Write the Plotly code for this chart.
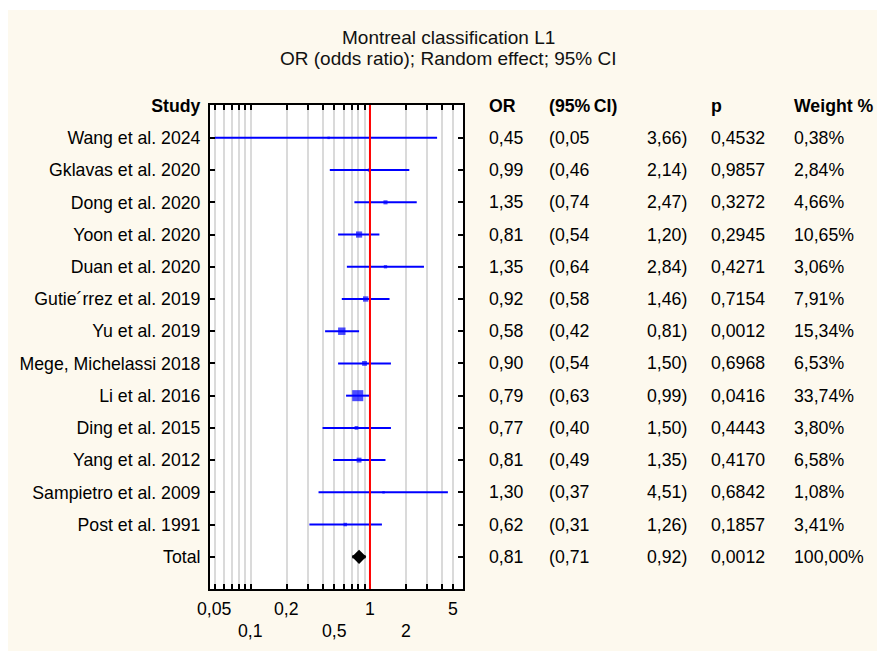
import math
import plotly.graph_objects as go

# ---------------- data ----------------
studies = ["Wang et al. 2024", "Gklavas et al. 2020", "Dong et al. 2020", "Yoon et al. 2020",
           "Duan et al. 2020", "Gutie\u00b4rrez et al. 2019", "Yu et al. 2019",
           "Mege, Michelassi 2018", "Li et al. 2016", "Ding et al. 2015", "Yang et al. 2012",
           "Sampietro et al. 2009", "Post et al. 1991"]
odds_ratio = [0.45, 0.99, 1.35, 0.81, 1.35, 0.92, 0.58, 0.90, 0.79, 0.77, 0.81, 1.30, 0.62]
ci_low = [0.05, 0.46, 0.74, 0.54, 0.64, 0.58, 0.42, 0.54, 0.63, 0.40, 0.49, 0.37, 0.31]
ci_high = [3.66, 2.14, 2.47, 1.20, 2.84, 1.46, 0.81, 1.50, 0.99, 1.50, 1.35, 4.51, 1.26]
p_values = ["0,4532", "0,9857", "0,3272", "0,2945", "0,4271", "0,7154", "0,0012",
            "0,6968", "0,0416", "0,4443", "0,4170", "0,6842", "0,1857"]
weights = [0.38, 2.84, 4.66, 10.65, 3.06, 7.91, 15.34, 6.53, 33.74, 3.80, 6.58, 1.08, 3.41]

total_label = "Total"
total_or = 0.81
total_low = 0.71
total_high = 0.92
total_p = "0,0012"
total_weight = 100.00

ref_or = 1
grid_vals = [0.05, 0.06, 0.07, 0.08, 0.09, 0.1, 0.2, 0.3, 0.4, 0.5, 0.6, 0.7, 0.8, 0.9, 1, 2, 3, 4, 5]
tick_row1 = [0.05, 0.2, 1, 5]
tick_row2 = [0.1, 0.5, 2]
headers = ["OR", "(95%\u2009CI)", "", "p", "Weight %"]
title_lines = ["Montreal classification L1", "OR (odds ratio); Random effect; 95% CI"]

# ---------------- layout constants ----------------
W, H = 877, 651
ML, MR, MT, MB = 210, 10, 105, 62
PW = W - ML - MR
PH = H - MT - MB
PLOT_RIGHT = 463
FONT = "Liberation Sans, Arial, sans-serif"
FS = 17.7
CREAM = "#fdf9ee"

def px_to_paper_x(px):
    return (px - ML) / PW

def px_to_paper_y(py):
    return (H - MB - py) / PH

def fmt(v, nd=2):
    return f"{v:.{nd}f}".replace(".", ",")

n = len(studies)
rows = list(range(n))
total_row = n

fig = go.Figure()

# CI lines
for i in rows:
    fig.add_trace(go.Scatter(x=[ci_low[i], ci_high[i]], y=[i, i], mode="lines",
                             line=dict(color="#0000ff", width=2), showlegend=False,
                             hoverinfo="skip"))
# weight squares
fig.add_trace(go.Scatter(x=odds_ratio, y=rows, mode="markers",
                         marker=dict(symbol="square", color="#0000ff",
                                     size=[max(2.5, 1.9 * math.sqrt(w)) for w in weights],
                                     line=dict(width=0)),
                         showlegend=False))
# total
fig.add_trace(go.Scatter(x=[total_low, total_high], y=[total_row, total_row], mode="lines",
                         line=dict(color="black", width=3), showlegend=False))
fig.add_trace(go.Scatter(x=[total_or], y=[total_row], mode="markers",
                         marker=dict(symbol="diamond", color="black", size=11,
                                     line=dict(width=0)), showlegend=False))

# reference line
fig.add_shape(type="line", xref="x", yref="paper", x0=ref_or, x1=ref_or, y0=0, y1=1,
              line=dict(color="#ff0000", width=2), layer="above")

# white strips outside the cream panel
fig.add_shape(type="rect", xref="paper", yref="paper",
              x0=px_to_paper_x(0), x1=px_to_paper_x(W), y0=px_to_paper_y(10), y1=px_to_paper_y(0),
              fillcolor="white", line=dict(width=0), layer="below")
fig.add_shape(type="rect", xref="paper", yref="paper",
              x0=px_to_paper_x(0), x1=px_to_paper_x(8), y0=px_to_paper_y(H), y1=px_to_paper_y(0),
              fillcolor="white", line=dict(width=0), layer="below")

ann = []
PAD = 3
col_px = [490, 550, 686, 712, 795]
for c, h in enumerate(headers):
    if h:
        ann.append(dict(x=px_to_paper_x(col_px[c] - PAD), y=-1, xref="paper", yref="y",
                        text=f"<b>{h}</b>", showarrow=False, xanchor="left", yanchor="middle",
                        font=dict(family=FONT, size=FS, color="black")))

def add_row(y, orv, lo, hi, p, w):
    vals = [fmt(orv), "(" + fmt(lo), fmt(hi) + ")", p, fmt(w) + "%"]
    for c, t in enumerate(vals):
        right = (c == 2)
        ann.append(dict(x=px_to_paper_x(col_px[c] + (PAD if right else -PAD)), y=y,
                        xref="paper", yref="y", text=t,
                        showarrow=False, xanchor="right" if right else "left",
                        yanchor="middle", font=dict(family=FONT, size=FS, color="black")))

for i in rows:
    add_row(i, odds_ratio[i], ci_low[i], ci_high[i], p_values[i], weights[i])
add_row(total_row, total_or, total_low, total_high, total_p, total_weight)

# bottom axis labels (two staggered rows)
def tick_text(v):
    return fmt(v, 2 if v < 0.1 else (1 if v < 1 else 0))

for v in tick_row1:
    ann.append(dict(x=math.log10(v), y=0, xref="x", yref="paper", text=tick_text(v),
                    showarrow=False, yanchor="middle", yshift=-20,
                    font=dict(family=FONT, size=FS, color="black")))
for v in tick_row2:
    ann.append(dict(x=math.log10(v), y=0, xref="x", yref="paper", text=tick_text(v),
                    showarrow=False, yanchor="middle", yshift=-42,
                    font=dict(family=FONT, size=FS, color="black")))

# title (two lines)
for t, py in zip(title_lines, [38, 59]):
    ann.append(dict(x=px_to_paper_x(448), y=px_to_paper_y(py), xref="paper", yref="paper",
                    text=t, showarrow=False, xanchor="center", yanchor="middle",
                    font=dict(family=FONT, size=19, color="#111111")))

fig.update_layout(
    width=W, height=H,
    margin=dict(l=ML, r=MR, t=MT, b=MB),
    paper_bgcolor=CREAM, plot_bgcolor="white",
    font=dict(family=FONT, size=FS, color="black"),
    xaxis=dict(type="log", domain=[0, (PLOT_RIGHT - ML) / PW],
               range=[math.log10(0.0454), math.log10(6.04)],
               tickvals=grid_vals, ticktext=[""] * len(grid_vals),
               ticks="inside", ticklen=5, tickwidth=1.5, tickcolor="black",
               showgrid=True, gridcolor="#dadada", gridwidth=2,
               showline=True, linecolor="black", linewidth=2, mirror="ticks",
               zeroline=False, fixedrange=True),
    yaxis=dict(range=[total_row + 1, -1.02],
               tickvals=[-1] + rows + [total_row],
               ticktext=["<b>Study</b>"] + studies + [total_label],
               ticks="inside", ticklen=5, tickwidth=1.5, tickcolor="black",
               ticklabelstandoff=4,
               showgrid=False, zeroline=False,
               showline=True, linecolor="black", linewidth=2, mirror="ticks",
               tickfont=dict(family=FONT, size=FS, color="black"), fixedrange=True),
    annotations=ann,
    showlegend=False,
)

fig.write_html("out.html")
